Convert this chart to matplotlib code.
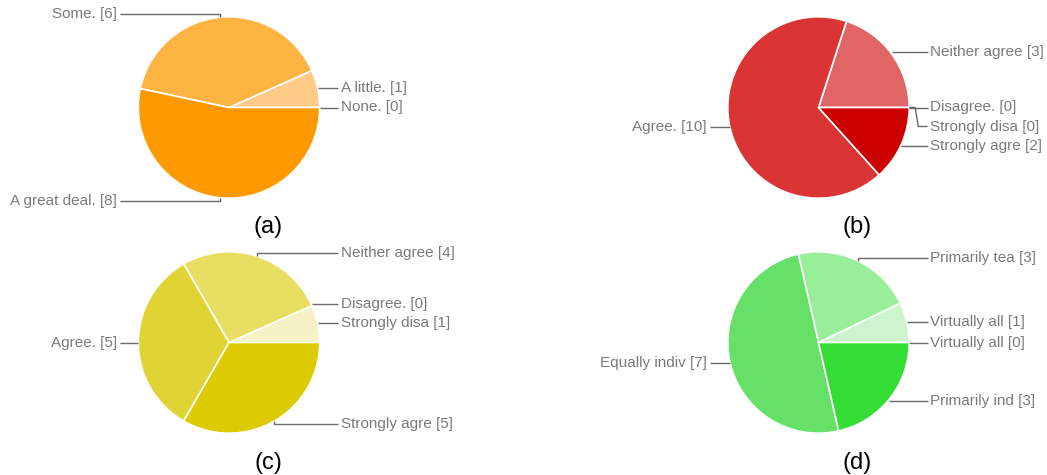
import numpy as np
import matplotlib
matplotlib.use("Agg")
import matplotlib.pyplot as plt

plt.rcParams['font.family'] = ['Liberation Sans', 'DejaVu Sans']

# ---- data (counter-clockwise order starting at 3 o'clock) ----
labels_a = ["None.", "A little.", "Some.", "A great deal."]
values_a = [0, 1, 6, 8]
colors_a = ["#FFE0B0", "#FFCC88", "#FFB340", "#FF9900"]

labels_b = ["Strongly disa", "Disagree.", "Neither agree", "Agree.", "Strongly agre"]
values_b = [0, 0, 3, 10, 2]
colors_b = ["#F4CCCC", "#EA9999", "#E06666", "#DA3434", "#CC0000"]

labels_c = ["Strongly disa", "Disagree.", "Neither agree", "Agree.", "Strongly agre"]
values_c = [1, 0, 4, 5, 5]
colors_c = ["#F6F2C6", "#F0E99A", "#E8DE62", "#E0D334", "#DCCB00"]

labels_d = ["Virtually all", "Virtually all", "Primarily tea", "Equally indiv", "Primarily ind"]
values_d = [0, 1, 3, 7, 3]
colors_d = ["#E6FAE6", "#CCF5CC", "#99EE99", "#66E066", "#33DD33"]

captions = ["(a)", "(b)", "(c)", "(d)"]

W, H = 1047, 475
fig = plt.figure(figsize=(W / 100, H / 100), dpi=100)
ax = fig.add_axes([0, 0, 1, 1])

R = 90.7
TXT = "#7a7a7a"
LINE = "#6a6a6a"


def draw(labels, values, colors, cx, cy_px, caption):
    cy = H - cy_px
    ax.pie(values, colors=colors, startangle=0, counterclock=True,
           center=(cx, cy), radius=R,
           wedgeprops=dict(edgecolor='white', linewidth=1.2))
    total = float(sum(values))
    starts = np.concatenate([[0], np.cumsum(values)[:-1]]) / total * 360
    mids = np.deg2rad(starts + np.array(values) / total * 180)
    items = []
    for i, (lab, v, m) in enumerate(zip(labels, values, mids)):
        side = 1 if np.cos(m) >= -1e-9 else -1
        px, py = cx + R * np.cos(m), cy + R * np.sin(m)
        ly = cy + 1.04 * R * np.sin(m)
        items.append(dict(i=i, text=f"{lab} [{v}]", m=m, side=side,
                          px=px, py=py, ly=ly))
    for side in (1, -1):
        grp = [it for it in items if it['side'] == side]
        grp.sort(key=lambda it: (-round(np.sin(it['m']), 6), -it['i']))
        prev = None
        for it in grp:
            if prev is not None:
                it['ly'] = min(it['ly'], prev - 19)
            prev = it['ly']
    for it in items:
        s = it['side']
        xe = cx + s * 109
        xt = cx + s * 112
        m = it['m']
        dy = it['ly'] - it['py']
        if abs(np.cos(m)) < 0.6:
            xs = [it['px'], it['px'], xe]
            ys = [it['py'], it['ly'], it['ly']]
        elif abs(dy) > 3:
            xs = [it['px'], it['px'] + s * 6, it['px'] + s * 9, xe]
            ys = [it['py'], it['py'], it['ly'], it['ly']]
        else:
            xs = [it['px'], xe]
            ys = [it['ly'], it['ly']]
        ax.plot(xs, ys, color=LINE, lw=1.0, solid_capstyle='butt', zorder=3)
        ax.text(xt, it['ly'], it['text'], ha='left' if s > 0 else 'right',
                va='center', fontsize=11, color=TXT)
    ax.text(cx + 39, cy - 120, caption, ha='center', va='center',
            fontsize=17, color='black')


draw(labels_a, values_a, colors_a, 229, 107.5, captions[0])
draw(labels_b, values_b, colors_b, 818.5, 107.5, captions[1])
draw(labels_c, values_c, colors_c, 229, 342.5, captions[2])
draw(labels_d, values_d, colors_d, 818.5, 342.5, captions[3])

ax.set_xlim(0, W)
ax.set_ylim(0, H)
ax.set_aspect('equal')
ax.axis('off')

fig.savefig("out.png", dpi=100, facecolor='white')
